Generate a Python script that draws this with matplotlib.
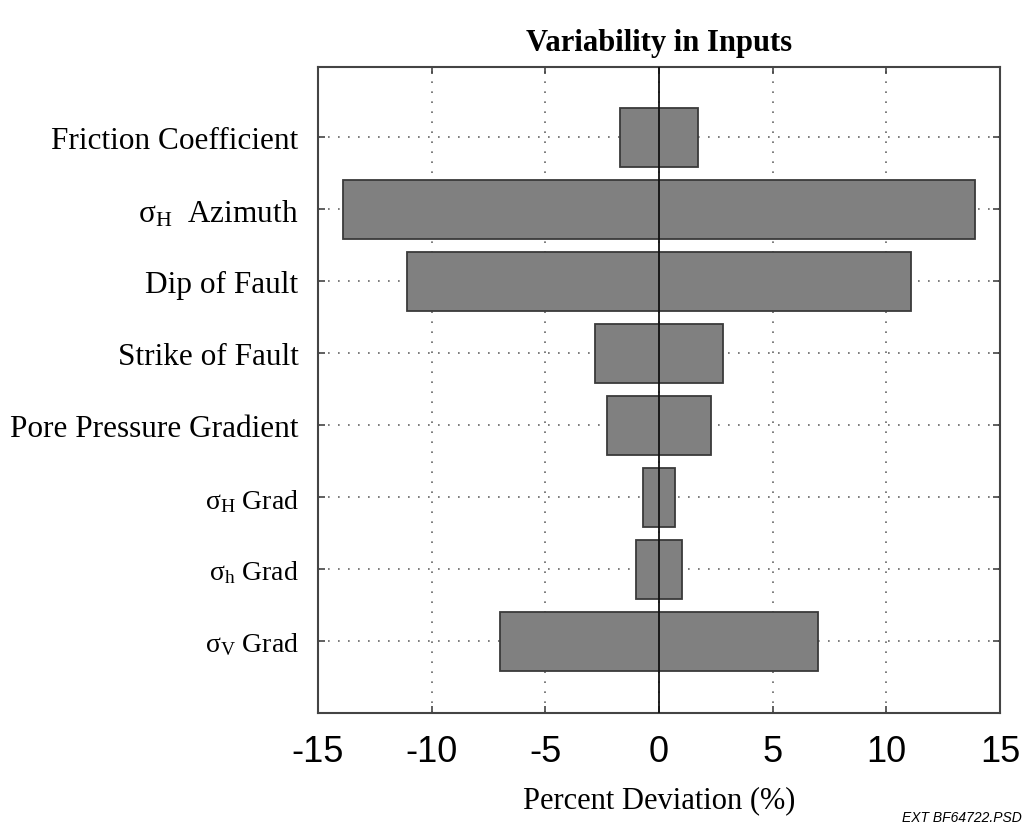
import matplotlib.pyplot as plt

plt.rcParams["mathtext.fontset"] = "custom"
plt.rcParams["mathtext.rm"] = "Liberation Serif"
plt.rcParams["mathtext.it"] = "Liberation Serif:italic"

# input parameters, top to bottom
labels = [
    "Friction Coefficient",
    r"$\mathrm{\sigma_H}$  Azimuth",
    "Dip of Fault",
    "Strike of Fault",
    "Pore Pressure Gradient",
    r"$\mathrm{\sigma_H}$ Grad",
    r"$\mathrm{\sigma_h}$ Grad",
    r"$\mathrm{\sigma_V}$ Grad",
]
# percent deviation of the output (symmetric +/-)
low = [-1.7, -13.9, -11.1, -2.8, -2.3, -0.7, -1.0, -7.0]
high = [1.7, 13.9, 11.1, 2.8, 2.3, 0.7, 1.0, 7.0]
xticks = [-15, -10, -5, 0, 5, 10, 15]

fig = plt.figure(figsize=(10.27, 8.28), dpi=100)
ax = fig.add_axes([0.3096, 0.1377, 0.6641, 0.7802])

y = list(range(1, len(labels) + 1))
widths = [h - l for l, h in zip(low, high)]
ax.barh(y, widths, left=low, height=0.82, color="#808080",
        edgecolor="#3a3a3a", linewidth=1.3, zorder=2)
ax.axvline(0, color="#111111", linewidth=1.3, zorder=3)

ax.set_xlim(-15, 15)
ax.set_ylim(9, 0.02)
ax.set_xticks(xticks)
ax.set_xticklabels([str(t) for t in xticks], family="Liberation Sans", fontsize=26)
ax.set_yticks(y)
ax.set_yticklabels(labels, family="Liberation Serif", fontsize=22.5)
for lab in ax.get_yticklabels()[5:]:
    lab.set_fontsize(20)

ax.grid(True, linestyle=(0, (1, 5)), color="#666666", linewidth=1.2, zorder=0)
ax.set_axisbelow(True)
ax.tick_params(axis="both", direction="in", length=5, width=1.2, color="#444444",
               top=True, right=True)
ax.tick_params(axis="x", pad=15)
ax.tick_params(axis="y", pad=14)
for s in ax.spines.values():
    s.set_color("#444444")
    s.set_linewidth(1.5)

ax.set_title("Variability in Inputs", family="Liberation Serif", fontweight="bold",
             fontsize=22, pad=12)
ax.set_xlabel("Percent Deviation (%)", family="Liberation Serif", fontsize=22, labelpad=12)

fig.text(0.995, 0.004, "EXT BF64722.PSD", ha="right", va="bottom",
         family="Liberation Sans", style="italic", fontsize=10)

fig.savefig("out.png", dpi=100)
